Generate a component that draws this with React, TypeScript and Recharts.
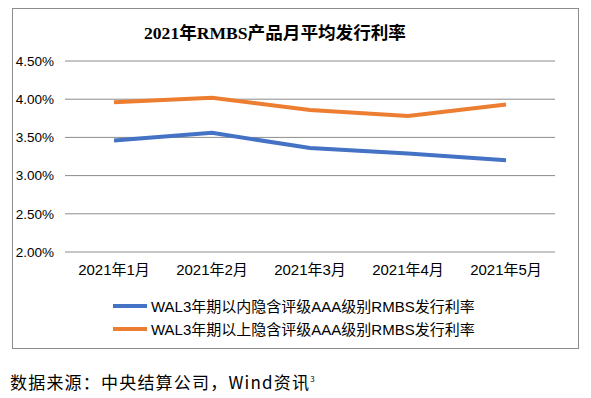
import React from "react";
import { LineChart, Line, XAxis, YAxis, CartesianGrid } from "recharts";

// monthly average issuance rates (%)
const months = ["2021年1月", "2021年2月", "2021年3月", "2021年4月", "2021年5月"];
const within3y = [3.46, 3.56, 3.36, 3.29, 3.2];
const over3y = [3.96, 4.02, 3.86, 3.78, 3.93];
const yTicks = [2, 2.5, 3, 3.5, 4, 4.5];

const seriesNames = [
  "WAL3年期以内隐含评级AAA级别RMBS发行利率",
  "WAL3年期以上隐含评级AAA级别RMBS发行利率",
];
const colors = ["#4472C4", "#ED7D31"];

const chartData = months.map((m, i) => ({
  month: m,
  inner: within3y[i],
  outer: over3y[i],
}));

const sans = '"Liberation Sans", Arial, "Noto Sans CJK SC", sans-serif';

const LegendBox = () => (
  <div
    style={{
      position: "absolute",
      left: 113,
      top: 294,
      fontFamily: sans,
      fontSize: 15,
      color: "#000",
    }}
  >
    {seriesNames.map((name, i) => (
      <div key={i} style={{ display: "flex", alignItems: "center", height: 23 }}>
        <span
          style={{
            display: "inline-block",
            width: 34,
            height: 4,
            background: colors[i],
            marginRight: 4,
          }}
        />
        <span style={{ whiteSpace: "nowrap" }}>{name}</span>
      </div>
    ))}
  </div>
);

export default function App() {
  return (
    <div
      style={{
        position: "absolute",
        left: 0,
        top: 0,
        width: 591,
        height: 398,
        background: "#fff",
        overflow: "hidden",
      }}
    >
      {/* chart frame */}
      <div
        style={{
          position: "absolute",
          left: 12,
          top: 8,
          width: 565,
          height: 339,
          border: "1px solid #8c8c8c",
        }}
      />
      <div
        style={{
          position: "absolute",
          left: 144,
          top: 22,
          fontFamily: '"Liberation Serif", "Times New Roman", "Noto Sans CJK SC", serif',
          fontWeight: "bold",
          fontSize: 17.6,
          lineHeight: "22px",
          color: "#000",
          whiteSpace: "nowrap",
        }}
      >
        2021年RMBS产品月平均发行利率
      </div>
      <div style={{ position: "absolute", left: 0, top: 0 }}>
        <LineChart
          width={591}
          height={398}
          data={chartData}
          margin={{ top: 61, right: 36, bottom: 116, left: 15 }}
        >
          <CartesianGrid vertical={false} stroke="#8c8c8c" strokeWidth={1} />
          <XAxis
            dataKey="month"
            axisLine={false}
            tickLine={false}
            tickMargin={6}
            interval={0}
            padding={{ left: 49, right: 49 }}
            tick={{ fill: "#000", fontSize: 15, fontFamily: sans }}
          />
          <YAxis
            width={50}
            domain={[2, 4.5]}
            ticks={yTicks}
            axisLine={false}
            tickLine={false}
            tickMargin={5}
            tickFormatter={(v: number) => v.toFixed(2) + "%"}
            tick={{ fill: "#000", fontSize: 13.5, fontFamily: sans }}
          />
          <Line
            dataKey="inner"
            name={seriesNames[0]}
            stroke={colors[0]}
            strokeWidth={4}
            dot={false}
            isAnimationActive={false}
          />
          <Line
            dataKey="outer"
            name={seriesNames[1]}
            stroke={colors[1]}
            strokeWidth={4}
            dot={false}
            isAnimationActive={false}
          />
        </LineChart>
      </div>
      <LegendBox />
      <div
        style={{
          position: "absolute",
          left: 10,
          top: 368,
          fontFamily: '"Noto Sans CJK SC", sans-serif',
          fontSize: 17,
          letterSpacing: 1.2,
          lineHeight: "22px",
          color: "#000",
          whiteSpace: "nowrap",
        }}
      >
        数据来源：中央结算公司，Wind资讯
        <sup style={{ fontSize: 8, letterSpacing: 0 }}>3</sup>
      </div>
    </div>
  );
}
